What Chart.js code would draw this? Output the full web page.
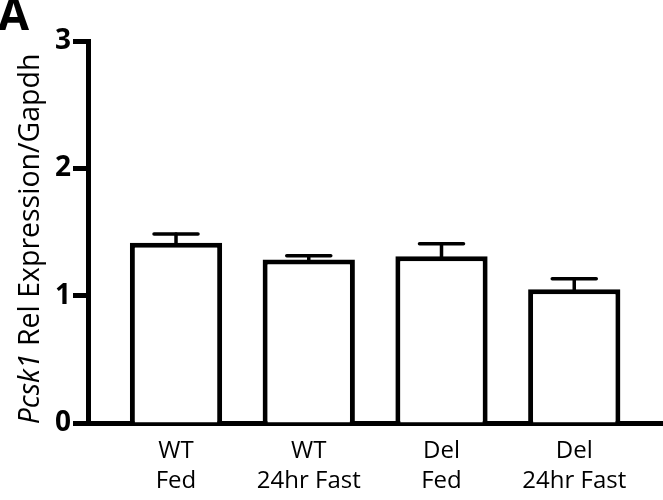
<!DOCTYPE html>
<html>
<head>
<meta charset="utf-8">
<script src="https://cdn.jsdelivr.net/npm/chart.js@4"></script>
<style>
  html, body { margin: 0; padding: 0; background: #fff; }
  #wrap { width: 663px; height: 500px; }
</style>
</head>
<body>
<div id="wrap"><canvas id="c" width="663" height="500"></canvas></div>
<script>
// ---- data ----
const groupLabels = [['WT', 'Fed'], ['WT', '24hr Fast'], ['Del', 'Fed'], ['Del', '24hr Fast']];
const meanValues = [1.415, 1.285, 1.31, 1.05];
const errorValues = [0.07, 0.028, 0.098, 0.082];
const yTicks = [0, 1, 2, 3];
const panelLetter = 'A';
const geneName = 'Pcsk1';
const yTitleRest = ' Rel Expression/Gapdh';

const FONT = '"Open Sans", "Noto Sans", sans-serif';

// error bars (upper only) drawn through the scales
const errorBarPlugin = {
  id: 'errorBars',
  afterDatasetsDraw(chart) {
    const ctx = chart.ctx, xs = chart.scales.x, ys = chart.scales.y;
    ctx.save();
    ctx.strokeStyle = '#000';
    ctx.lineCap = 'round';
    meanValues.forEach((v, i) => {
      const x = xs.getPixelForValue(i);
      const yTop = ys.getPixelForValue(v);
      const yErr = ys.getPixelForValue(v + errorValues[i]);
      ctx.lineWidth = 3.5;
      ctx.beginPath();
      ctx.moveTo(x, yTop);
      ctx.lineTo(x, yErr);
      ctx.stroke();
      ctx.beginPath();
      ctx.moveTo(x - 22, yErr);
      ctx.lineTo(x + 22, yErr);
      ctx.stroke();
    });
    ctx.restore();
  }
};

// y title with italic gene name + panel letter
const textPlugin = {
  id: 'texts',
  afterDraw(chart) {
    const ctx = chart.ctx, ys = chart.scales.y;
    ctx.save();
    ctx.fillStyle = '#000';
    ctx.font = 'bold 45px ' + FONT;
    ctx.textBaseline = 'top';
    ctx.textAlign = 'left';
    ctx.fillText(panelLetter, -2, -5);

    const cy = (ys.getPixelForValue(0) + ys.getPixelForValue(3)) / 2 + 7;
    const italicFont = 'italic 28.5px ' + FONT;
    const normalFont = '28.5px ' + FONT;
    ctx.font = italicFont;
    const w1 = ctx.measureText(geneName).width;
    ctx.font = normalFont;
    const w2 = ctx.measureText(yTitleRest).width;
    const total = w1 + w2;
    ctx.translate(39, cy);
    ctx.rotate(-Math.PI / 2);
    ctx.textBaseline = 'alphabetic';
    ctx.font = italicFont;
    ctx.fillText(geneName, -total / 2, 0);
    ctx.font = normalFont;
    ctx.fillText(yTitleRest, -total / 2 + w1, 0);
    ctx.restore();
  }
};

new Chart(document.getElementById('c').getContext('2d'), {
  type: 'bar',
  data: {
    datasets: [{
      data: meanValues.map((v, i) => ({ x: i, y: v })),
      backgroundColor: '#fff',
      borderColor: '#000',
      borderWidth: 5,
      borderSkipped: 'bottom',
      barPercentage: 0.695,
      categoryPercentage: 1
    }]
  },
  options: {
    responsive: false,
    animation: false,
    layout: { padding: { top: 41, right: 1, left: 0, bottom: 0 } },
    plugins: { legend: { display: false }, tooltip: { enabled: false } },
    scales: {
      x: {
        type: 'linear',
        offset: false,
        min: -0.663,
        max: 3.661,
        afterBuildTicks: s => { s.ticks = groupLabels.map((_, i) => ({ value: i })); },
        afterFit: s => { s.height = 77; },
        grid: { display: false, offset: false },
        border: { display: true, color: '#000', width: 5 },
        ticks: {
          color: '#000',
          padding: 5,
          maxRotation: 0,
          autoSkip: false,
          font: { family: FONT, size: 24, lineHeight: 1.25 },
          callback: v => groupLabels[v]
        }
      },
      y: {
        min: 0,
        max: 3,
        afterBuildTicks: s => { s.ticks = yTicks.map(v => ({ value: v })); },
        afterFit: s => { s.width = 88; },
        grid: { drawOnChartArea: false, color: '#000', tickLength: 15, tickWidth: 5 },
        border: { display: true, color: '#000', width: 5 },
        ticks: {
          color: '#000',
          padding: 2,
          font: { family: FONT, size: 28, weight: 'bold' }
        }
      }
    }
  },
  plugins: [errorBarPlugin, textPlugin]
});
</script>
</body>
</html>
